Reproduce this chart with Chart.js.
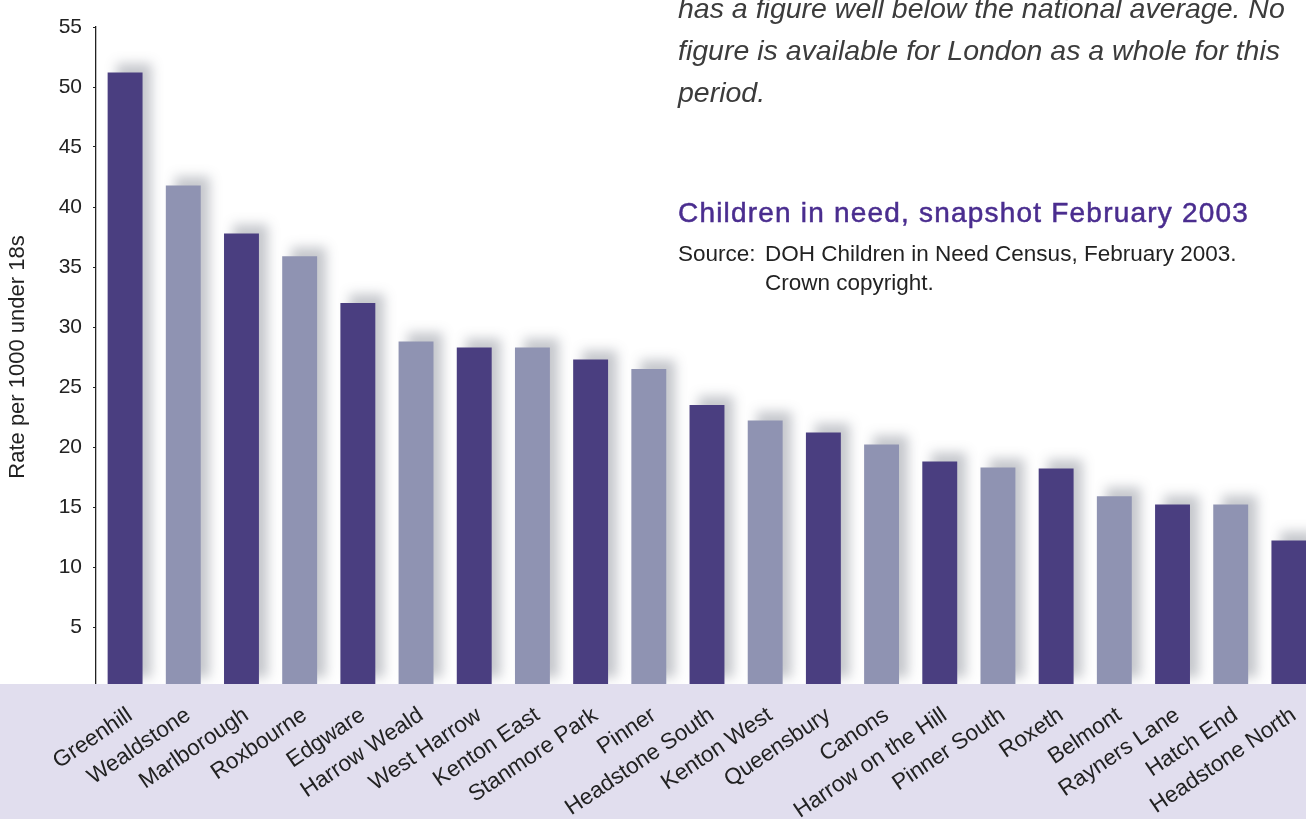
<!DOCTYPE html>
<html>
<head>
<meta charset="utf-8">
<script src="https://cdn.jsdelivr.net/npm/chart.js@4"></script>
<style>
  html, body { margin: 0; padding: 0; background: #ffffff; overflow: hidden; width: 1306px; height: 819px; }
  #wrap { position: absolute; left: 0; top: 0; width: 1319px; height: 819px; }
  .note { position: absolute; font-family: "Liberation Sans", Arial, Helvetica, sans-serif; white-space: nowrap; }
  #intro { left: 678px; top: -13px; font-size: 28.5px; line-height: 42px; font-style: italic; color: #3c3c3c; }
  #title { left: 678px; top: 199px; font-size: 28px; line-height: 28px; color: #4a2d8f; letter-spacing: 1.2px; -webkit-text-stroke: 0.5px #4a2d8f; }
  #source { left: 678px; top: 239px; font-size: 22.5px; line-height: 29px; color: #222; }
  #source .lab { display: inline-block; width: 87px; }
  #source .ind { padding-left: 87px; }
</style>
</head>
<body>
<div id="wrap"><canvas id="c" width="1319" height="819"></canvas></div>
<div class="note" id="intro">has a figure well below the national average. No<br>figure is available for London as a whole for this<br>period.</div>
<div class="note" id="title">Children in need, snapshot February 2003</div>
<div class="note" id="source"><span class="lab">Source:</span>DOH Children in Need Census, February 2003.<br><span class="ind">Crown copyright.</span></div>
<script>
const categories = ["Greenhill","Wealdstone","Marlborough","Roxbourne","Edgware","Harrow Weald","West Harrow","Kenton East","Stanmore Park","Pinner","Headstone South","Kenton West","Queensbury","Canons","Harrow on the Hill","Pinner South","Roxeth","Belmont","Rayners Lane","Hatch End","Headstone North"];
const rates = [51.2, 41.8, 37.8, 35.9, 32.0, 28.8, 28.3, 28.3, 27.3, 26.5, 23.5, 22.2, 21.2, 20.2, 18.8, 18.3, 18.2, 15.9, 15.2, 15.2, 12.2];
const yTickValues = [5, 10, 15, 20, 25, 30, 35, 40, 45, 50, 55];
const yAxisTitle = "Rate per 1000 under 18s";

const DARK = "#4a3e80";
const LIGHT = "#8f93b2";
const BAND = "#e1deee";
const FONT = "'Liberation Sans', Arial, Helvetica, sans-serif";

const shadowAndBand = {
  id: "shadowAndBand",
  beforeDatasetsDraw(chart) {
    const ctx = chart.ctx;
    ctx.save();
    ctx.shadowColor = "rgba(85,90,105,0.34)";
    ctx.shadowBlur = 12;
    ctx.shadowOffsetX = 9;
    ctx.shadowOffsetY = -9;
  },
  afterDatasetsDraw(chart) {
    const ctx = chart.ctx;
    ctx.restore();
    ctx.save();
    ctx.fillStyle = BAND;
    const top = chart.chartArea.bottom - 3;
    ctx.fillRect(0, top, chart.width, chart.height - top);
    ctx.restore();
  }
};

new Chart(document.getElementById("c"), {
  type: "bar",
  data: {
    labels: categories,
    datasets: [{
      data: rates,
      backgroundColor: (c) => (c.dataIndex % 2 === 0 ? DARK : LIGHT),
      borderWidth: 0,
      categoryPercentage: 1.0,
      barPercentage: 0.6
    }]
  },
  options: {
    responsive: false,
    animation: false,
    devicePixelRatio: 1,
    layout: { padding: { top: 27, left: 0, right: 0, bottom: 0 } },
    plugins: { legend: { display: false }, tooltip: { enabled: false }, title: { display: false } },
    scales: {
      x: {
        offset: true,
        grid: { display: false, drawTicks: false },
        border: { display: false },
        ticks: {
          z: 1,
          autoSkip: false,
          minRotation: 34,
          maxRotation: 34,
          padding: 15,
          labelOffset: 5,
          color: "#222",
          font: { family: FONT, size: 22.5 }
        },
        afterFit(scale) { scale.height = 132; }
      },
      y: {
        min: 0,
        max: 55,
        afterBuildTicks(scale) { scale.ticks = [0].concat(yTickValues).map(v => ({ value: v })); },
        grid: { display: true, drawOnChartArea: false, drawTicks: true, tickLength: 3, color: "#222", lineWidth: 1 },
        border: { display: true, color: "#222", width: 1.3 },
        ticks: {
          padding: 11,
          color: "#222",
          font: { family: FONT, size: 21 },
          callback: (v) => (v === 0 ? "" : String(v))
        },
        title: {
          display: true,
          text: yAxisTitle,
          color: "#222",
          font: { family: FONT, size: 22 },
          padding: { top: 5, bottom: 0 }
        },
        afterFit(scale) { scale.width = 96; }
      }
    }
  },
  plugins: [shadowAndBand]
});
</script>
</body>
</html>
